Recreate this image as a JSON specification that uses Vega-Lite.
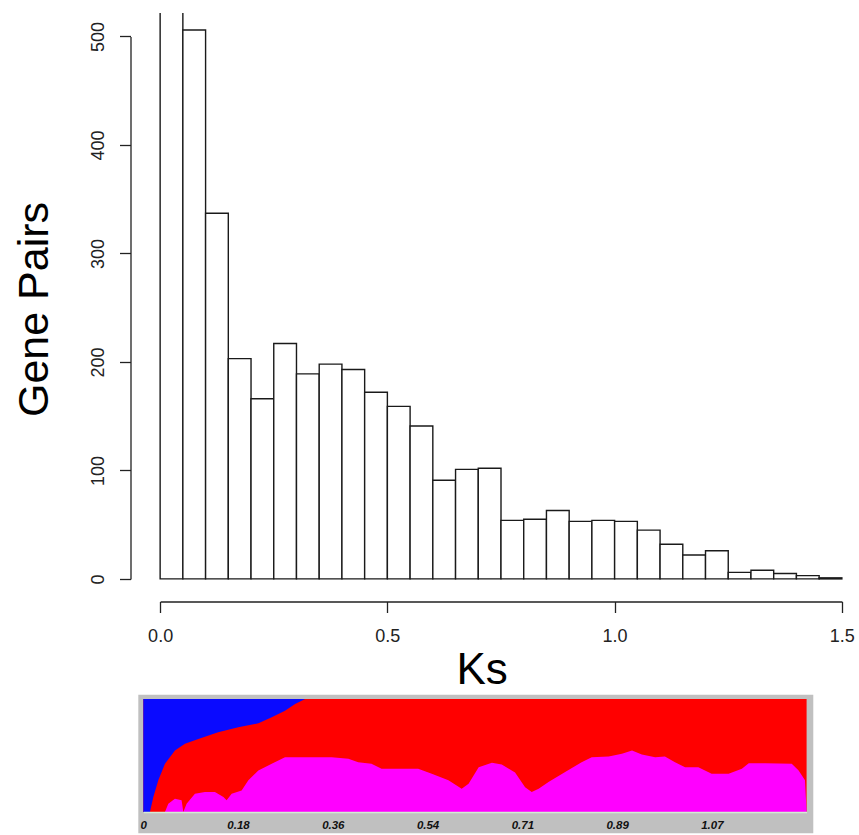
{
  "$schema": "https://vega.github.io/schema/vega-lite/v6.json",
  "background": "white",
  "padding": {"left": 13, "top": 13, "right": 5, "bottom": 0},
  "spacing": 1,
  "config": {
    "view": {"stroke": null},
    "font": "Liberation Sans",
    "axis": {"grid": false, "labelFont": "Liberation Sans", "titleFont": "Liberation Sans"}
  },
  "datasets": {
    "hist": [
      {"start": 0.00, "end": 0.05, "count": 560},
      {"start": 0.05, "end": 0.10, "count": 506},
      {"start": 0.10, "end": 0.15, "count": 337},
      {"start": 0.15, "end": 0.20, "count": 203},
      {"start": 0.20, "end": 0.25, "count": 166},
      {"start": 0.25, "end": 0.30, "count": 217},
      {"start": 0.30, "end": 0.35, "count": 189},
      {"start": 0.35, "end": 0.40, "count": 198},
      {"start": 0.40, "end": 0.45, "count": 193},
      {"start": 0.45, "end": 0.50, "count": 172},
      {"start": 0.50, "end": 0.55, "count": 159},
      {"start": 0.55, "end": 0.60, "count": 141},
      {"start": 0.60, "end": 0.65, "count": 91},
      {"start": 0.65, "end": 0.70, "count": 101},
      {"start": 0.70, "end": 0.75, "count": 102},
      {"start": 0.75, "end": 0.80, "count": 54},
      {"start": 0.80, "end": 0.85, "count": 55},
      {"start": 0.85, "end": 0.90, "count": 63},
      {"start": 0.90, "end": 0.95, "count": 53},
      {"start": 0.95, "end": 1.00, "count": 54},
      {"start": 1.00, "end": 1.05, "count": 53},
      {"start": 1.05, "end": 1.10, "count": 45},
      {"start": 1.10, "end": 1.15, "count": 32},
      {"start": 1.15, "end": 1.20, "count": 22},
      {"start": 1.20, "end": 1.25, "count": 26},
      {"start": 1.25, "end": 1.30, "count": 6},
      {"start": 1.30, "end": 1.35, "count": 8},
      {"start": 1.35, "end": 1.40, "count": 5},
      {"start": 1.40, "end": 1.45, "count": 3},
      {"start": 1.45, "end": 1.50, "count": 1}
    ],
    "blue": [
      {"x": 0, "b": 0},
      {"x": 0.0125, "b": 0},
      {"x": 0.0189, "b": 0.132},
      {"x": 0.0283, "b": 0.28},
      {"x": 0.0408, "b": 0.427},
      {"x": 0.0596, "b": 0.544},
      {"x": 0.0785, "b": 0.603},
      {"x": 0.1037, "b": 0.647},
      {"x": 0.141, "b": 0.705},
      {"x": 0.179, "b": 0.75},
      {"x": 0.217, "b": 0.785},
      {"x": 0.242, "b": 0.838},
      {"x": 0.267, "b": 0.897},
      {"x": 0.286, "b": 0.956},
      {"x": 0.305, "b": 1.0}
    ],
    "magenta": [
      {"x": 0.0408, "m": 0},
      {"x": 0.0471, "m": 0.074},
      {"x": 0.0596, "m": 0.118},
      {"x": 0.0722, "m": 0.103},
      {"x": 0.0754, "m": 0},
      {"x": 0.0816, "m": 0.074},
      {"x": 0.0973, "m": 0.162},
      {"x": 0.1161, "m": 0.177},
      {"x": 0.135, "m": 0.177},
      {"x": 0.151, "m": 0.132},
      {"x": 0.157, "m": 0.103},
      {"x": 0.1665, "m": 0.162},
      {"x": 0.1853, "m": 0.191},
      {"x": 0.198, "m": 0.28},
      {"x": 0.2168, "m": 0.368},
      {"x": 0.242, "m": 0.427},
      {"x": 0.267, "m": 0.485},
      {"x": 0.292, "m": 0.485},
      {"x": 0.355, "m": 0.485},
      {"x": 0.3865, "m": 0.471},
      {"x": 0.405, "m": 0.441},
      {"x": 0.43, "m": 0.427},
      {"x": 0.449, "m": 0.383},
      {"x": 0.481, "m": 0.383},
      {"x": 0.518, "m": 0.383},
      {"x": 0.5436, "m": 0.339},
      {"x": 0.575, "m": 0.28},
      {"x": 0.6, "m": 0.206},
      {"x": 0.613, "m": 0.25},
      {"x": 0.632, "m": 0.397},
      {"x": 0.657, "m": 0.436},
      {"x": 0.6755, "m": 0.42},
      {"x": 0.7006, "m": 0.35},
      {"x": 0.7195, "m": 0.22},
      {"x": 0.732, "m": 0.177},
      {"x": 0.745, "m": 0.206},
      {"x": 0.7636, "m": 0.265},
      {"x": 0.795, "m": 0.354},
      {"x": 0.826, "m": 0.441},
      {"x": 0.845, "m": 0.485},
      {"x": 0.877, "m": 0.491},
      {"x": 0.902, "m": 0.515},
      {"x": 0.921, "m": 0.544},
      {"x": 0.9395, "m": 0.509},
      {"x": 0.9646, "m": 0.485},
      {"x": 0.983, "m": 0.491},
      {"x": 1.002, "m": 0.441},
      {"x": 1.021, "m": 0.397},
      {"x": 1.046, "m": 0.397},
      {"x": 1.071, "m": 0.339},
      {"x": 1.103, "m": 0.339},
      {"x": 1.128, "m": 0.383},
      {"x": 1.141, "m": 0.432},
      {"x": 1.172, "m": 0.432},
      {"x": 1.222, "m": 0.427},
      {"x": 1.235, "m": 0.368},
      {"x": 1.247, "m": 0.28},
      {"x": 1.25, "m": 0}
    ]
  },
  "vconcat": [
    {
      "width": 684,
      "height": 567,
      "data": {"name": "hist"},
      "mark": {"type": "rect", "fill": "white", "stroke": "#1a1a1a", "strokeWidth": 1.4, "clip": true},
      "encoding": {
        "x": {
          "field": "start", "type": "quantitative",
          "scale": {"domain": [-0.0025, 1.5025], "nice": false, "zero": false},
          "axis": {
            "title": "Ks", "values": [0, 0.5, 1, 1.5], "format": ".1f",
            "offset": 21.5, "tickSize": 11, "tickColor": "#222", "tickWidth": 1.3,
            "domainColor": "#222", "domainWidth": 1.3,
            "domainDash": [0, 1.14, 681.8, 2000],
            "labelFontSize": 18, "labelColor": "#222", "labelPadding": 15,
            "labelFlush": false, "labelOverlap": false,
            "titleFontSize": 44, "titleFontWeight": "normal", "titleColor": "#000",
            "titlePadding": 3, "titleX": 322.6
          }
        },
        "x2": {"field": "end"},
        "y": {
          "field": "count", "type": "quantitative",
          "scale": {"domain": [-1, 521.6], "nice": false, "zero": false},
          "axis": {
            "title": "Gene Pairs", "values": [0, 100, 200, 300, 400, 500],
            "offset": 28.5, "tickSize": 11, "tickColor": "#222", "tickWidth": 1.3,
            "domainColor": "#222", "domainWidth": 1.3,
            "domainDash": [0, 1.085, 542.5, 2000],
            "labelAngle": 270, "labelAlign": "center", "labelBaseline": "bottom",
            "labelPadding": 12, "labelFontSize": 18, "labelColor": "#222",
            "titleFontSize": 43, "titleFontWeight": "normal", "titleColor": "#000",
            "titlePadding": 33, "titleY": 296
          }
        },
        "y2": {"datum": 0}
      }
    },
    {
      "width": 647,
      "height": 113,
      "layer": [
        {
          "data": {"values": [{}]},
          "mark": {"type": "rect", "fill": "#c0c0c0"},
          "encoding": {
            "x": {
              "datum": -0.0094, "type": "quantitative",
              "scale": {"domain": [0, 1.25], "range": [-15.7, 647.6], "nice": false, "zero": false},
              "axis": {
                "title": null,
                "values": [0, 0.17857, 0.35714, 0.53571, 0.71429, 0.89286, 1.07143],
                "labelExpr": "datum.value == 0 ? '0' : format(datum.value, '.2f')",
                "ticks": false, "domain": true, "domainColor": "#d4ecd4", "domainWidth": 1.5,
                "labelFontStyle": "italic", "labelFontWeight": "bold", "labelFontSize": 11.5,
                "labelColor": "#111", "labelPadding": 7, "labelFlush": false, "labelOverlap": false,
                "zindex": 1
              }
            },
            "x2": {"datum": 1.2626},
            "y": {"datum": -0.188, "type": "quantitative", "scale": {"domain": [0, 1], "nice": false, "zero": false}, "axis": null},
            "y2": {"datum": 1.038}
          }
        },
        {
          "data": {"values": [{}]},
          "mark": {"type": "rect", "fill": "#ff0000"},
          "encoding": {
            "x": {"datum": 0, "type": "quantitative", "title": null},
            "x2": {"datum": 1.25},
            "y": {"datum": 0, "type": "quantitative", "axis": null},
            "y2": {"datum": 1}
          }
        },
        {
          "data": {"name": "blue"},
          "mark": {"type": "area", "color": "#0a0aff"},
          "encoding": {
            "x": {"field": "x", "type": "quantitative", "title": null},
            "y": {"field": "b", "type": "quantitative", "axis": null},
            "y2": {"datum": 1}
          }
        },
        {
          "data": {"name": "magenta"},
          "mark": {"type": "area", "color": "#ff00ff"},
          "encoding": {
            "x": {"field": "x", "type": "quantitative", "title": null},
            "y": {"field": "m", "type": "quantitative", "axis": null},
            "y2": {"datum": 0}
          }
        }
      ]
    }
  ]
}
